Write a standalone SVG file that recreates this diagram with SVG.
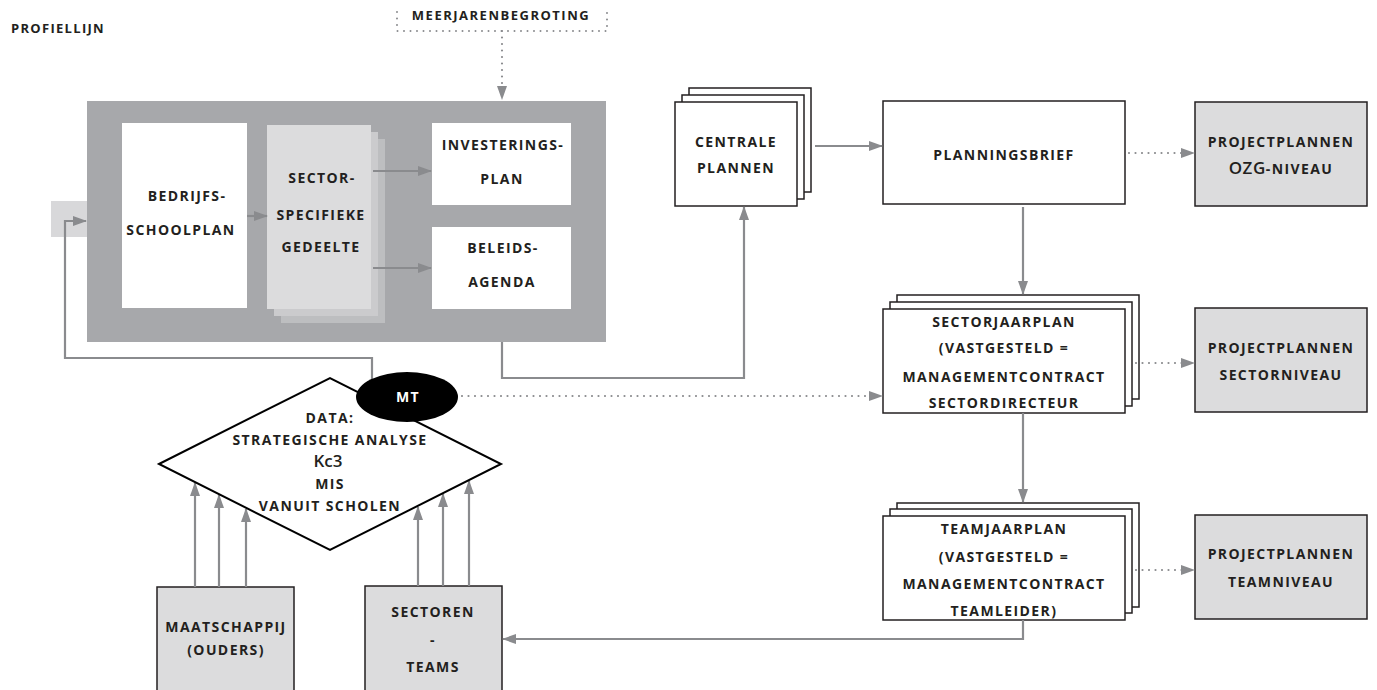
<svg xmlns="http://www.w3.org/2000/svg" width="1377" height="690" viewBox="0 0 1377 690">
<style>
.t{font-family:"Open Sans","Liberation Sans",sans-serif;font-weight:bold;font-size:14px;letter-spacing:1.4px;fill:#231f20;text-anchor:middle}
.big{font-family:"Open Sans","Liberation Sans",sans-serif;font-weight:600;font-size:17px;fill:#231f20}
.box{fill:#fff;stroke:#231f20;stroke-width:1.5}
.gbox{fill:#dcdcdd;stroke:#231f20;stroke-width:1.5}
.wbox{fill:#fff}
.c{fill:none;stroke:#8a8b8e;stroke-width:2.2}
.d{fill:none;stroke:#8a8b8e;stroke-width:2.2;stroke-dasharray:0 6.5;stroke-linecap:round}
</style>
<defs>
<marker id="ah" markerUnits="userSpaceOnUse" markerWidth="14" markerHeight="10" refX="13" refY="5" orient="auto">
<path d="M0,0 L14,5 L0,10 z" fill="#8a8b8e"/>
</marker>
</defs>

<g id="profiellijn"><text class="t" x="11" y="33" style="text-anchor:start;font-size:13px;letter-spacing:1.3px">PROFIELLIJN</text></g>

<g id="meerjarenbegroting">
<path class="d" d="M397,12 V31 H607 V12" style="stroke-width:2"/>
<text class="t" x="501" y="20" style="font-size:13px;letter-spacing:1.5px">MEERJARENBEGROTING</text>
</g>

<g id="plan-block">
<rect x="51" y="201" width="36" height="36" fill="#d8d8da"/>
<rect x="87" y="101" width="519" height="241" fill="#a7a8ab"/>
</g>

<g id="bedrijfsschoolplan">
<rect class="wbox" x="122" y="123" width="125" height="185"/>
<text class="t" x="187" y="201">BEDRIJFS-</text>
<text class="t" x="181" y="235">SCHOOLPLAN</text>
</g>

<g id="sector-specifieke">
<rect x="281" y="139" width="104" height="184" fill="#bdbec0"/>
<rect x="274" y="132" width="104" height="184" fill="#cbcbcd"/>
<rect x="267" y="125" width="104" height="184" fill="#dcdcdd"/>
<text class="t" x="322" y="183">SECTOR-</text>
<text class="t" x="321" y="220">SPECIFIEKE</text>
<text class="t" x="321" y="252">GEDEELTE</text>
</g>

<g id="investeringsplan">
<rect class="wbox" x="432" y="123" width="139" height="82"/>
<text class="t" x="503" y="150">INVESTERINGS-</text>
<text class="t" x="502" y="184">PLAN</text>
</g>

<g id="beleidsagenda">
<rect class="wbox" x="432" y="227" width="139" height="82"/>
<text class="t" x="503" y="253">BELEIDS-</text>
<text class="t" x="502" y="287">AGENDA</text>
</g>

<g id="centrale-plannen">
<rect class="box" x="689" y="88" width="122" height="104"/>
<rect class="box" x="682" y="95" width="122" height="104"/>
<rect class="box" x="675" y="102" width="122" height="104"/>
<text class="t" x="736" y="147">CENTRALE</text>
<text class="t" x="736" y="173">PLANNEN</text>
</g>

<g id="planningsbrief">
<rect class="box" x="883" y="101" width="242" height="103"/>
<text class="t" x="1004" y="160">PLANNINGSBRIEF</text>
</g>

<g id="projectplannen-ozg">
<rect class="gbox" x="1195" y="102" width="172" height="104"/>
<text class="t" x="1281" y="147">PROJECTPLANNEN</text>
<text class="t" x="1281" y="174"><tspan style="font-size:17px;font-weight:600;letter-spacing:0.5px">OZG</tspan>-NIVEAU</text>
</g>

<g id="sectorjaarplan">
<rect class="box" x="897" y="295" width="242" height="104"/>
<rect class="box" x="890" y="302" width="242" height="104"/>
<rect class="box" x="883" y="309" width="242" height="104"/>
<text class="t" x="1004" y="327">SECTORJAARPLAN</text>
<text class="t" x="1004" y="353">(VASTGESTELD =</text>
<text class="t" x="1004" y="382">MANAGEMENTCONTRACT</text>
<text class="t" x="1004" y="408">SECTORDIRECTEUR</text>
</g>

<g id="projectplannen-sector">
<rect class="gbox" x="1195" y="308" width="172" height="104"/>
<text class="t" x="1281" y="353">PROJECTPLANNEN</text>
<text class="t" x="1281" y="380">SECTORNIVEAU</text>
</g>

<g id="teamjaarplan">
<rect class="box" x="897" y="503" width="242" height="104"/>
<rect class="box" x="890" y="509" width="242" height="104"/>
<rect class="box" x="883" y="516" width="242" height="104"/>
<text class="t" x="1004" y="534">TEAMJAARPLAN</text>
<text class="t" x="1004" y="562">(VASTGESTELD =</text>
<text class="t" x="1004" y="589">MANAGEMENTCONTRACT</text>
<text class="t" x="1004" y="616">TEAMLEIDER)</text>
</g>

<g id="projectplannen-team">
<rect class="gbox" x="1195" y="515" width="172" height="104"/>
<text class="t" x="1281" y="559">PROJECTPLANNEN</text>
<text class="t" x="1281" y="587">TEAMNIVEAU</text>
</g>

<g id="maatschappij">
<rect class="gbox" x="157" y="587" width="137" height="110"/>
<text class="t" x="226" y="632">MAATSCHAPPIJ</text>
<text class="t" x="226" y="655">(OUDERS)</text>
</g>

<g id="sectoren-teams">
<rect class="gbox" x="365" y="586" width="137" height="110"/>
<text class="t" x="433" y="617">SECTOREN</text>
<text class="t" x="433" y="645">-</text>
<text class="t" x="433" y="672">TEAMS</text>
</g>

<g id="connectors">
<path class="d" d="M502,31 V99" marker-end="url(#ah)"/>
<path class="c" d="M372,397 V358 H65 V221 H86" marker-end="url(#ah)"/>
<path class="c" d="M247,216 H267" marker-end="url(#ah)"/>
<path class="c" d="M373,171 H431" marker-end="url(#ah)"/>
<path class="c" d="M373,268 H431" marker-end="url(#ah)"/>
<path class="c" d="M502,342 V378 H744 V207" marker-end="url(#ah)"/>
<path class="c" d="M815,146 H882" marker-end="url(#ah)"/>
<path class="d" d="M1129,153 H1194" marker-end="url(#ah)"/>
<path class="c" d="M1023,207 V294" marker-end="url(#ah)"/>
<path class="d" d="M1136,363 H1194" marker-end="url(#ah)"/>
<path class="c" d="M1023,413 V502" marker-end="url(#ah)"/>
<path class="d" d="M1136,570 H1194" marker-end="url(#ah)"/>
<path class="c" d="M1023,620 V639 H503" marker-end="url(#ah)"/>
<path class="d" d="M462,396 H882" marker-end="url(#ah)"/>
<path class="c" d="M195,587 V483" marker-end="url(#ah)"/>
<path class="c" d="M219,587 V495" marker-end="url(#ah)"/>
<path class="c" d="M246,587 V509" marker-end="url(#ah)"/>
<path class="c" d="M418,586 V507" marker-end="url(#ah)"/>
<path class="c" d="M443,586 V494" marker-end="url(#ah)"/>
<path class="c" d="M469,586 V481" marker-end="url(#ah)"/>
</g>

<g id="data">
<polygon points="159,464 330,378 501,464 330,550" fill="none" stroke="#000" stroke-width="2"/>
<text class="t" x="330" y="423">DATA:</text>
<text class="t" x="330" y="445">STRATEGISCHE ANALYSE</text>
<text class="big" x="328" y="467" text-anchor="middle">Kc3</text>
<text class="t" x="330" y="489">MIS</text>
<text class="t" x="330" y="511">VANUIT SCHOLEN</text>
</g>

<g id="mt">
<ellipse cx="407" cy="397" rx="51" ry="25" fill="#000"/>
<text class="t" x="408" y="402" style="fill:#fff">MT</text>
</g>
</svg>
